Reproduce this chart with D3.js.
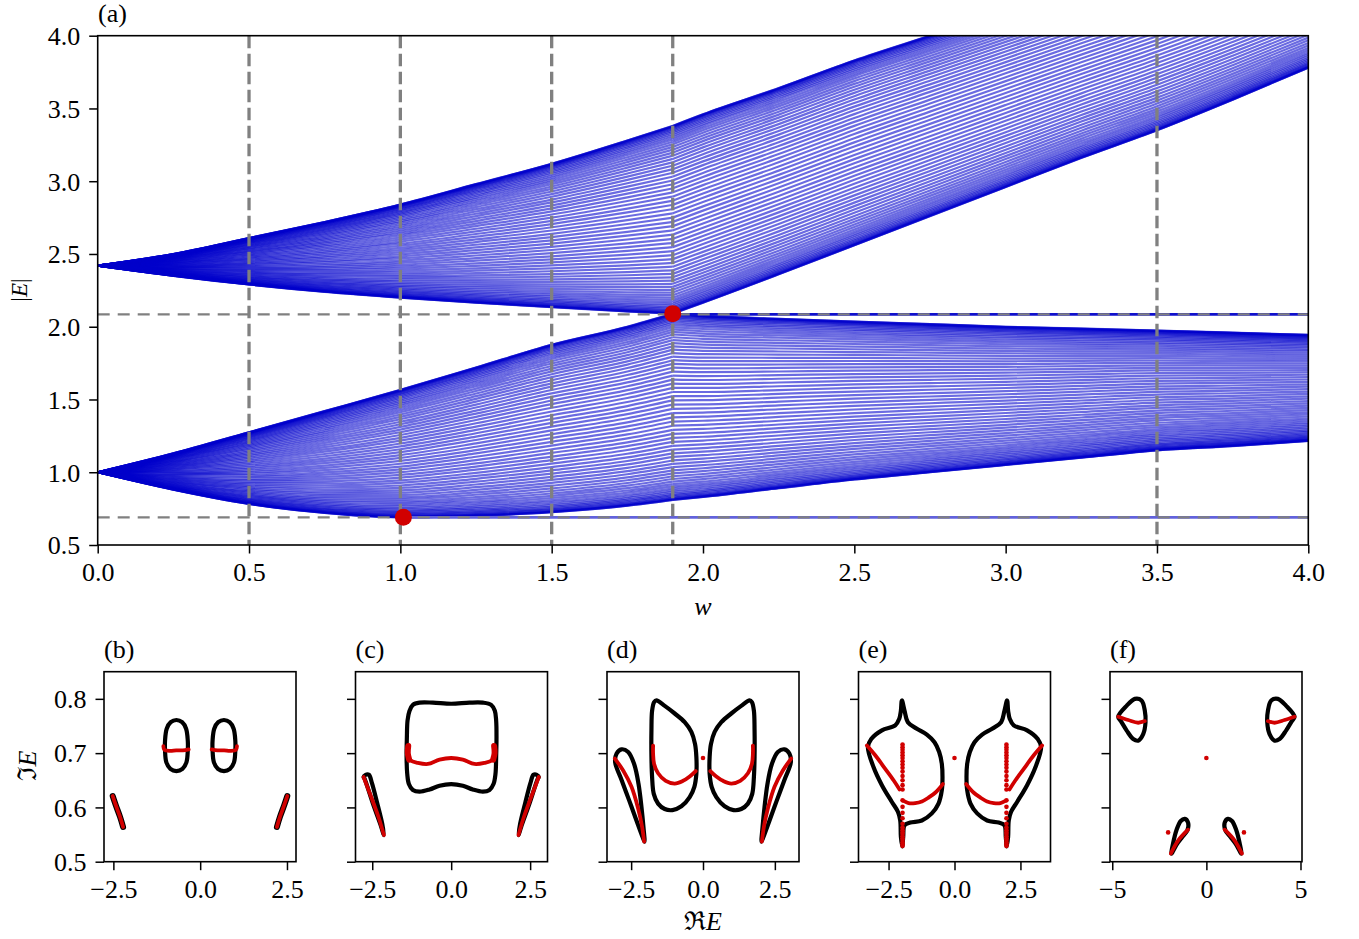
<!DOCTYPE html>
<html>
<head>
<meta charset="utf-8">
<script src="https://cdn.jsdelivr.net/npm/d3@7"></script>
<style>
  body { margin: 0; background: #fff; }
  svg text { font-family: "Liberation Serif", "Times New Roman", Times, "DejaVu Serif", "Noto Serif", serif; fill: #000; }
</style>
</head>
<body>
<svg id="fig" width="1359" height="939" font-family="Liberation Serif, Times New Roman, serif"></svg>
<script>
// ---------------- data: panel (a), band edges ----------------
var wGrid   = [0, 0.25, 0.5, 0.75, 1.0, 1.25, 1.5, 1.75, 1.9, 2.0, 2.25, 2.5, 2.75, 3.0, 3.25, 3.5, 3.75, 4.0];
var upTop   = [2.42, 2.50, 2.61, 2.72, 2.84, 2.98, 3.12, 3.28, 3.38, 3.46, 3.64, 3.83, 4.00, 4.17, 4.34, 4.51, 4.68, 4.85];
var upBot   = [2.42, 2.35, 2.29, 2.24, 2.20, 2.165, 2.135, 2.105, 2.09, 2.165, 2.36, 2.56, 2.76, 2.96, 3.16, 3.35, 3.56, 3.78];
var loTop   = [1.00, 1.13, 1.275, 1.42, 1.566, 1.72, 1.876, 2.00, 2.09, 2.075, 2.055, 2.036, 2.018, 2.00, 1.987, 1.974, 1.959, 1.944];
var loBot   = [1.00, 0.88, 0.782, 0.72, 0.69, 0.70, 0.725, 0.77, 0.81, 0.83, 0.89, 0.95, 1.00, 1.05, 1.10, 1.15, 1.18, 1.215];
var flatE     = [2.085, 0.69];
var flatStart = [1.9, 1.0];
var epW = [1.01, 1.90];
var epE = [0.69, 2.09];
var vCuts = [0.5, 1.0, 1.5, 1.9, 3.5];
var hCuts = [2.085, 0.69];
var xTicksA = [0, 0.5, 1.0, 1.5, 2.0, 2.5, 3.0, 3.5, 4.0];
var yTicksA = [0.5, 1.0, 1.5, 2.0, 2.5, 3.0, 3.5, 4.0];

// ---------------- data: panels (b)-(f), complex spectra (Re E, Im E) ----------------
var bLoopL = [[-0.685,0.761],[-0.52,0.757],[-0.405,0.745],[-0.357,0.723],[-0.357,0.705],[-0.396,0.683],[-0.51,0.671],[-0.685,0.667],[-0.858,0.671],[-0.974,0.683],[-1.012,0.705],[-1.012,0.723],[-0.964,0.745],[-0.848,0.757]];
var bLoopR = [[0.685,0.761],[0.848,0.757],[0.964,0.745],[1.012,0.723],[1.012,0.705],[0.974,0.683],[0.858,0.671],[0.685,0.667],[0.51,0.671],[0.396,0.683],[0.357,0.705],[0.357,0.723],[0.405,0.745],[0.52,0.757]];
var bRedL  = [[-1.06,0.713],[-1.03,0.706],[-0.87,0.704],[-0.69,0.705],[-0.50,0.705],[-0.33,0.707]];
var bRedR  = [[0.33,0.707],[0.50,0.705],[0.69,0.705],[0.87,0.704],[1.03,0.706],[1.06,0.713]];
var bArcL  = [[-2.52,0.621],[-2.43,0.604],[-2.31,0.583],[-2.22,0.564]];
var bArcR  = [[2.51,0.621],[2.42,0.604],[2.30,0.583],[2.21,0.564]];

var cLoop = [[-1.002,0.793],[-0.58,0.793],[0,0.791],[0.58,0.793],[1.002,0.793],[1.266,0.789],[1.382,0.778],[1.424,0.76],[1.435,0.729],[1.424,0.693],[1.403,0.662],[1.34,0.643],[1.213,0.632],[1.002,0.629],[0.686,0.633],[0.369,0.64],[0,0.643],[-0.369,0.64],[-0.686,0.633],[-1.002,0.629],[-1.213,0.632],[-1.34,0.643],[-1.392,0.662],[-1.413,0.693],[-1.403,0.729],[-1.382,0.76],[-1.319,0.778],[-1.213,0.789]];
var cRed  = [[-1.35,0.712],[-1.371,0.699],[-1.297,0.687],[-1.055,0.682],[-0.738,0.68],[-0.369,0.688],[0,0.691],[0.369,0.688],[0.738,0.68],[1.055,0.682],[1.297,0.687],[1.371,0.699],[1.35,0.712]];
var cRedEnds = [[[-1.36,0.713],[-1.375,0.700],[-1.33,0.688]], [[1.36,0.713],[1.375,0.700],[1.33,0.688]]];
var cSliverL = [[-2.743,0.653],[-2.479,0.607],[-2.215,0.564],[-2.131,0.549],[-2.184,0.57],[-2.352,0.61],[-2.511,0.645],[-2.605,0.66],[-2.711,0.66],[-2.774,0.656]];
var cSliverR = [[2.743,0.653],[2.479,0.607],[2.215,0.564],[2.131,0.549],[2.184,0.57],[2.352,0.61],[2.511,0.645],[2.605,0.66],[2.711,0.66],[2.774,0.656]];
var cRedL = [[-2.774,0.656],[-2.532,0.619],[-2.289,0.58],[-2.131,0.549]];
var cRedR = [[2.774,0.656],[2.532,0.619],[2.289,0.58],[2.131,0.549]];

var dLoopL = [[-1.62,0.797],[-1.331,0.787],[-0.984,0.773],[-0.637,0.757],[-0.405,0.739],[-0.278,0.717],[-0.231,0.693],[-0.231,0.662],[-0.301,0.638],[-0.463,0.619],[-0.752,0.602],[-1.065,0.595],[-1.331,0.597],[-1.563,0.607],[-1.713,0.625],[-1.771,0.656],[-1.794,0.693],[-1.794,0.742],[-1.771,0.778],[-1.701,0.794]];
var dLoopR = [[1.62,0.797],[1.331,0.787],[0.984,0.773],[0.637,0.757],[0.405,0.739],[0.278,0.717],[0.231,0.693],[0.231,0.662],[0.301,0.638],[0.463,0.619],[0.752,0.602],[1.065,0.595],[1.331,0.597],[1.563,0.607],[1.713,0.625],[1.771,0.656],[1.794,0.693],[1.794,0.742],[1.771,0.778],[1.701,0.794]];
var dRedL = [[-1.736,0.714],[-1.736,0.699],[-1.701,0.68],[-1.563,0.663],[-1.296,0.649],[-0.984,0.644],[-0.694,0.649],[-0.463,0.657],[-0.255,0.667]];
var dRedR = [[1.736,0.714],[1.736,0.699],[1.701,0.68],[1.563,0.663],[1.296,0.649],[0.984,0.644],[0.694,0.649],[0.463,0.657],[0.255,0.667]];
var dSliverL = [[-3.009,0.699],[-2.836,0.707],[-2.604,0.702],[-2.396,0.68],[-2.245,0.644],[-2.141,0.601],[-2.072,0.564],[-2.037,0.537],[-2.106,0.546],[-2.315,0.576],[-2.569,0.613],[-2.836,0.651],[-3.056,0.683]];
var dSliverR = [[3.009,0.699],[2.836,0.707],[2.604,0.702],[2.396,0.68],[2.245,0.644],[2.141,0.601],[2.072,0.564],[2.037,0.537],[2.106,0.546],[2.315,0.576],[2.569,0.613],[2.836,0.651],[3.056,0.683]];
var dSlRedL = [[-3.067,0.69],[-2.778,0.668],[-2.488,0.638],[-2.257,0.598],[-2.118,0.564],[-2.049,0.537]];
var dSlRedR = [[3.067,0.69],[2.778,0.668],[2.488,0.638],[2.257,0.598],[2.118,0.564],[2.049,0.537]];
var dDots = [[0, 0.691]];

var eLoopL = [[-1.995,0.797],[-1.894,0.778],[-1.768,0.757],[-1.427,0.745],[-1.048,0.734],[-0.758,0.72],[-0.581,0.702],[-0.48,0.68],[-0.455,0.656],[-0.48,0.632],[-0.606,0.607],[-0.859,0.589],[-1.237,0.576],[-1.679,0.572],[-1.894,0.567],[-1.944,0.546],[-1.982,0.528],[-2.033,0.546],[-2.058,0.576],[-2.146,0.592],[-2.374,0.61],[-2.753,0.641],[-3.068,0.674],[-3.283,0.711],[-3.157,0.726],[-2.753,0.742],[-2.247,0.751],[-2.096,0.763],[-2.033,0.778]];
var eLoopR = [[1.995,0.797],[1.894,0.778],[1.768,0.757],[1.427,0.745],[1.048,0.734],[0.758,0.72],[0.581,0.702],[0.48,0.68],[0.455,0.656],[0.48,0.632],[0.606,0.607],[0.859,0.589],[1.237,0.576],[1.679,0.572],[1.894,0.567],[1.944,0.546],[1.982,0.528],[2.033,0.546],[2.058,0.576],[2.146,0.592],[2.374,0.61],[2.753,0.641],[3.068,0.674],[3.283,0.711],[3.157,0.726],[2.753,0.742],[2.247,0.751],[2.096,0.763],[2.033,0.778]];
var eRedL1 = [[-3.321,0.714],[-3.005,0.696],[-2.626,0.671],[-2.311,0.65],[-2.083,0.633]];
var eRedL2 = [[-1.932,0.612],[-1.742,0.608],[-1.49,0.608],[-1.237,0.611],[-0.985,0.618],[-0.732,0.627],[-0.442,0.643]];
var eRedR1 = [[3.321,0.714],[3.005,0.696],[2.626,0.671],[2.311,0.65],[2.083,0.633]];
var eRedR2 = [[1.932,0.612],[1.742,0.608],[1.49,0.608],[1.237,0.611],[0.985,0.618],[0.732,0.627],[0.442,0.643]];
var eColX = [-1.97, 1.97];
var eColY = [0.716,0.711,0.706,0.701,0.696,0.691,0.685,0.679,0.673,0.666,0.658,0.65,0.641,0.633,0.613,0.601,0.59,0.58,0.57,0.563,0.558,0.554,0.551,0.547,0.543,0.54,0.536,0.532,0.529];
var eDots = [[0, 0.691]];

var fLoopTL = [[-4.682,0.767],[-4.24,0.787],[-3.799,0.8],[-3.445,0.797],[-3.269,0.778],[-3.233,0.757],[-3.357,0.735],[-3.622,0.723],[-3.887,0.726],[-4.24,0.742],[-4.541,0.759]];
var fLoopTR = [[4.682,0.767],[4.24,0.787],[3.799,0.8],[3.445,0.797],[3.269,0.778],[3.233,0.757],[3.357,0.735],[3.622,0.723],[3.887,0.726],[4.24,0.742],[4.541,0.759]];
var fRedTL = [[-4.682,0.767],[-4.152,0.761],[-3.622,0.756],[-3.269,0.759]];
var fRedTR = [[4.682,0.767],[4.152,0.761],[3.622,0.756],[3.269,0.759]];
var fLoopBL = [[-1.855,0.515],[-1.767,0.534],[-1.59,0.558],[-1.36,0.575],[-1.148,0.579],[-0.972,0.572],[-1.007,0.558],[-1.29,0.545],[-1.59,0.531]];
var fLoopBR = [[1.855,0.515],[1.767,0.534],[1.59,0.558],[1.36,0.575],[1.148,0.579],[0.972,0.572],[1.007,0.558],[1.29,0.545],[1.59,0.531]];
var fRedBL = [[-1.89,0.515],[-1.502,0.539],[-0.972,0.559]];
var fRedBR = [[1.89,0.515],[1.502,0.539],[0.972,0.559]];
var fDots = [[0,0.691],[-2.032,0.554],[1.996,0.554]];

// ---------------- figure ----------------
var svg = d3.select("#fig");
var fontSize = 26;
var serif = "'Liberation Serif', 'Times New Roman', Times, 'DejaVu Serif', serif";
var red = "#d10000", blue = "#0000cc", gray = "#808080";

// Panel (a)
var x = d3.scaleLinear().domain([0, 4]).range([97.7, 1308.3]);
var y = d3.scaleLinear().domain([0.5, 4]).range([545, 35.7]);

svg.append("clipPath").attr("id", "clipA")
  .append("rect").attr("x", x(0)).attr("y", y(4))
  .attr("width", x(4) - x(0)).attr("height", y(0.5) - y(4));

var gA = svg.append("g").attr("clip-path", "url(#clipA)");

var bandLine = d3.line()
  .x(function(d) { return x(d[0]); })
  .y(function(d) { return y(d[1]); })
  .curve(d3.curveMonotoneX);

// each band is a family of levels spread between its two edges, denser at the edges
var nLevels = 70;
var split = wGrid.indexOf(1.9);
function drawBand(top, bot) {
  for (var k = 0; k < nLevels; k++) {
    var t = (1 - Math.cos(Math.PI * k / (nLevels - 1))) / 2;
    var pts = wGrid.map(function(w, i) { return [w, bot[i] + t * (top[i] - bot[i])]; });
    [pts.slice(0, split + 1), pts.slice(split)].forEach(function(seg) {
      gA.append("path")
        .attr("d", bandLine(seg))
        .attr("fill", "none")
        .attr("stroke", blue)
        .attr("stroke-opacity", 0.58)
        .attr("stroke-width", 2.2);
    });
  }
}
drawBand(upTop, upBot);
drawBand(loTop, loBot);

// isolated flat levels
flatE.forEach(function(e, i) {
  gA.append("line")
    .attr("x1", x(flatStart[i])).attr("x2", x(4))
    .attr("y1", y(e)).attr("y2", y(e))
    .attr("stroke", i === 0 ? "#1010cc" : "#6262dc")
    .attr("stroke-width", 2.6);
});

// guide lines
hCuts.forEach(function(e) {
  gA.append("line")
    .attr("x1", x(0)).attr("x2", x(4))
    .attr("y1", y(e)).attr("y2", y(e))
    .attr("stroke", gray).attr("stroke-width", 2.2)
    .attr("stroke-dasharray", "12,8");
});
vCuts.forEach(function(w) {
  gA.append("line")
    .attr("x1", x(w)).attr("x2", x(w))
    .attr("y1", y(4)).attr("y2", y(0.5))
    .attr("stroke", gray).attr("stroke-width", 3.3)
    .attr("stroke-dasharray", "12.5,5.5");
});

// exceptional points
gA.selectAll(".ep").data(epW).enter().append("circle")
  .attr("cx", function(d) { return x(d); })
  .attr("cy", function(d, i) { return y(epE[i]); })
  .attr("r", 8.5)
  .attr("fill", red);

function styleAxis(g) {
  g.select(".domain").remove();
  g.attr("font-family", null).attr("font-size", null);
  g.selectAll(".tick line").attr("stroke", "#000").attr("stroke-width", 1.5);
  g.selectAll(".tick text")
    .style("font-family", serif)
    .style("font-size", fontSize + "px");
}

function label(sel) {
  return sel.style("font-family", serif).style("font-size", fontSize + "px");
}

var xAxisA = svg.append("g")
  .attr("transform", "translate(0," + y(0.5) + ")")
  .call(d3.axisBottom(x).tickValues(xTicksA).tickFormat(d3.format(".1f")).tickSize(8.5).tickPadding(9).tickSizeOuter(0));
styleAxis(xAxisA);
var yAxisA = svg.append("g")
  .attr("transform", "translate(" + x(0) + ",0)")
  .call(d3.axisLeft(y).tickValues(yTicksA).tickFormat(d3.format(".1f")).tickSize(8.5).tickPadding(9).tickSizeOuter(0));
styleAxis(yAxisA);
yAxisA.selectAll(".tick text").attr("dy", "0.34em");

svg.append("rect")
  .attr("x", x(0)).attr("y", y(4))
  .attr("width", x(4) - x(0)).attr("height", y(0.5) - y(4))
  .attr("fill", "none").attr("stroke", "#000").attr("stroke-width", 1.6);

label(svg.append("text").attr("x", 98).attr("y", 22)).text("(a)");
label(svg.append("text").attr("x", 703).attr("y", 615).attr("text-anchor", "middle"))
  .style("font-style", "italic").text("w");
var yl = label(svg.append("text").attr("transform", "translate(27,290) rotate(-90)")
  .attr("text-anchor", "middle")).style("font-size", "23px");
yl.append("tspan").text("|");
yl.append("tspan").style("font-style", "italic").text("E");
yl.append("tspan").text("|");

// Panels (b)-(f)
var panelTop = 671.7, panelBottom = 861.7, panelW = 192;
var yTicksS = [0.5, 0.6, 0.7, 0.8];
var panels = [
  { tag: "(b)", left: 104,   xdom: [-2.77, 2.76], ticks: [-2.5, 0, 2.5], fmt: ".1f",
    loops: [bLoopL, bLoopR], arcs: [bArcL, bArcR], reds: [bRedL, bRedR, bArcL, bArcR], thick: [], dots: [] },
  { tag: "(c)", left: 355.5, xdom: [-3.03, 3.05], ticks: [-2.5, 0, 2.5], fmt: ".1f",
    loops: [cLoop, cSliverL, cSliverR], arcs: [], reds: [cRed, cRedL, cRedR], thick: cRedEnds, dots: [] },
  { tag: "(d)", left: 607,   xdom: [-3.34, 3.34], ticks: [-2.5, 0, 2.5], fmt: ".1f",
    loops: [dLoopL, dLoopR, dSliverL, dSliverR], arcs: [], reds: [dRedL, dRedR, dSlRedL, dSlRedR], thick: [], dots: dDots },
  { tag: "(e)", left: 858.5, xdom: [-3.64, 3.64], ticks: [-2.5, 0, 2.5], fmt: ".1f",
    loops: [eLoopL, eLoopR], arcs: [], reds: [eRedL1, eRedL2, eRedR1, eRedR2], thick: [],
    dots: eDots.concat(eColX.reduce(function(a, cx) { return a.concat(eColY.map(function(cy) { return [cx, cy]; })); }, [])) },
  { tag: "(f)", left: 1110,  xdom: [-5.12, 5.08], ticks: [-5, 0, 5], fmt: "d",
    loops: [fLoopTL, fLoopTR, fLoopBL, fLoopBR], arcs: [], reds: [fRedTL, fRedTR, fRedBL, fRedBR], thick: [], dots: fDots }
];

panels.forEach(function(p, pi) {
  var sx = d3.scaleLinear().domain(p.xdom).range([p.left, p.left + panelW]);
  var sy = d3.scaleLinear().domain([0.5, 0.85]).range([panelBottom, panelTop]);
  var clipId = "clipS" + pi;
  svg.append("clipPath").attr("id", clipId)
    .append("rect").attr("x", p.left).attr("y", panelTop)
    .attr("width", panelW).attr("height", panelBottom - panelTop);
  var g = svg.append("g").attr("clip-path", "url(#" + clipId + ")");

  var closed = d3.line().x(function(d) { return sx(d[0]); }).y(function(d) { return sy(d[1]); })
    .curve(d3.curveCatmullRomClosed.alpha(0.5));
  var open = d3.line().x(function(d) { return sx(d[0]); }).y(function(d) { return sy(d[1]); })
    .curve(d3.curveCatmullRom.alpha(0.5));

  p.loops.forEach(function(l) {
    g.append("path").attr("d", closed(l)).attr("fill", "none")
      .attr("stroke", "#000").attr("stroke-width", 4.2).attr("stroke-linejoin", "round");
  });
  p.arcs.forEach(function(l) {
    g.append("path").attr("d", open(l)).attr("fill", "none")
      .attr("stroke", "#000").attr("stroke-width", 6).attr("stroke-linecap", "round");
  });
  p.reds.forEach(function(l) {
    g.append("path").attr("d", open(l)).attr("fill", "none")
      .attr("stroke", red).attr("stroke-width", 3.8).attr("stroke-linecap", "round");
  });
  p.thick.forEach(function(l) {
    g.append("path").attr("d", open(l)).attr("fill", "none")
      .attr("stroke", red).attr("stroke-width", 6).attr("stroke-linecap", "round");
  });
  g.selectAll(".dot").data(p.dots).enter().append("circle")
    .attr("cx", function(d) { return sx(d[0]); })
    .attr("cy", function(d) { return sy(d[1]); })
    .attr("r", 2.3).attr("fill", red);

  var xa = svg.append("g").attr("transform", "translate(0," + panelBottom + ")")
    .call(d3.axisBottom(sx).tickValues(p.ticks).tickFormat(d3.format(p.fmt)).tickSize(8.5).tickPadding(9).tickSizeOuter(0));
  styleAxis(xa);
  var ya = svg.append("g").attr("transform", "translate(" + p.left + ",0)")
    .call(d3.axisLeft(sy).tickValues(yTicksS).tickFormat(pi === 0 ? d3.format(".1f") : function() { return ""; })
      .tickSize(8.5).tickPadding(9).tickSizeOuter(0));
  styleAxis(ya);
  ya.selectAll(".tick text").attr("dy", "0.34em");

  svg.append("rect").attr("x", p.left).attr("y", panelTop)
    .attr("width", panelW).attr("height", panelBottom - panelTop)
    .attr("fill", "none").attr("stroke", "#000").attr("stroke-width", 1.6);

  label(svg.append("text").attr("x", p.left).attr("y", 658)).text(p.tag);
});

var iml = label(svg.append("text").attr("transform", "translate(36,766) rotate(-90)")
  .attr("text-anchor", "middle"));
iml.append("tspan").text("\u2111");
iml.append("tspan").style("font-style", "italic").text("E");
var rel = label(svg.append("text").attr("x", 703).attr("y", 930).attr("text-anchor", "middle"));
rel.append("tspan").text("\u211C");
rel.append("tspan").style("font-style", "italic").text("E");
</script>
</body>
</html>
